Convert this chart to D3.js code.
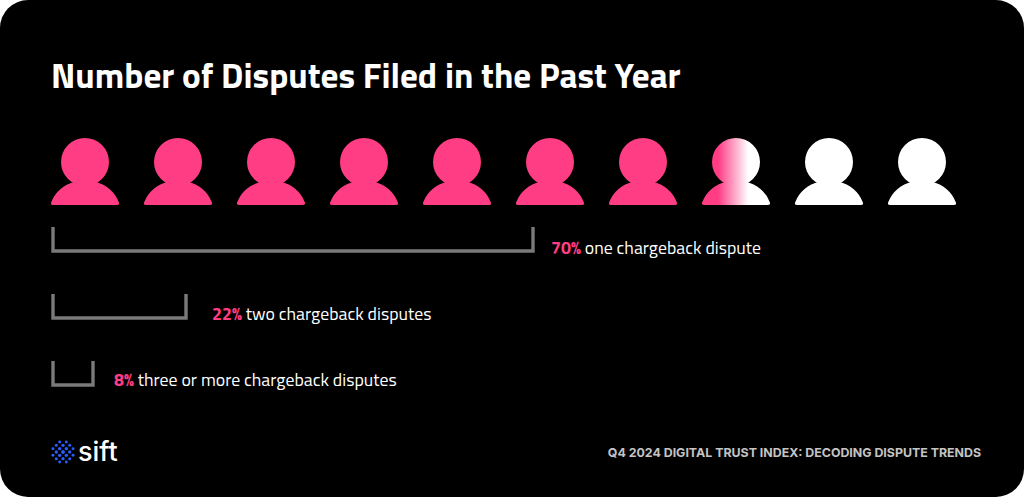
<!DOCTYPE html>
<html>
<head>
<meta charset="utf-8">
<script src="https://cdn.jsdelivr.net/npm/d3@7"></script>
<style>
html, body { margin: 0; padding: 0; background: #fff; }
svg { display: block; }
</style>
</head>
<body>
<div class="chart"></div>
<script>
const titleText = 'Number of Disputes Filed in the Past Year'
const sourceText = 'Q4 2024 DIGITAL TRUST INDEX: DECODING DISPUTE TRENDS'
const logoText = 'sift'

// one person per 10%, the 8th is a partly filled one
const people = [1, 2, 3, 4, 5, 6, 7, 8, 9, 10]
const pinkPeople = 7
const categories = ['one chargeback dispute', 'two chargeback disputes', 'three or more chargeback disputes']
const shares = [70, 22, 8]

const w = 1024
const h = 497
const pink = '#ff3d85'
const font = '"Titillium Web", "Noto Sans", "Open Sans", sans-serif'

const svg = d3.select('.chart')
  .append('svg')
  .attr('width', w)
  .attr('height', h)
  .attr('viewBox', `0 0 ${w} ${h}`)

const defs = svg.append('defs')
const grad = defs.append('linearGradient')
  .attr('id', 'fade')
  .attr('x1', 0).attr('x2', 1).attr('y1', 0).attr('y2', 0)
grad.append('stop').attr('offset', '0.24').attr('stop-color', pink)
grad.append('stop').attr('offset', '0.68').attr('stop-color', '#fff')

svg.append('rect')
  .attr('width', w)
  .attr('height', h)
  .attr('rx', 28)
  .attr('fill', '#000')

svg.append('text')
  .text(titleText)
  .attr('x', 51)
  .attr('y', 87.5)
  .attr('fill', '#fff')
  .attr('font-family', font)
  .attr('font-weight', 700)
  .attr('font-size', 35.15)

// people row
const x = d3.scalePoint().domain(people).range([85, 922])
const personPath = 'M-33.7,40 A32,32 0 0 1 -10,20 L10,20 A32,32 0 0 1 33.7,40 Q35,43 32,43 L-32,43 Q-35,43 -33.7,40 Z'

const person = svg.selectAll('.person')
  .data(people)
  .enter()
  .append('g')
  .attr('class', 'person')
  .attr('transform', d => `translate(${x(d)},162)`)
  .attr('fill', d => d <= pinkPeople ? pink : d === pinkPeople + 1 ? 'url(#fade)' : '#fff')

// head and body as one path so the gradient runs across the whole figure
person.append('path')
  .attr('d', d3.arc()({ innerRadius: 0, outerRadius: 24, startAngle: 0, endAngle: 2 * Math.PI }) + personPath)
  .attr('fill-rule', 'nonzero')

// brackets, widths follow the shares
const bw = d3.scaleLinear().domain([0, 8, 22, 70]).range([0, 40, 133, 480])
const rowY = d3.scalePoint().domain(categories).range([227, 361])
const labelY = d3.scalePoint().domain(categories).range([254, 385.5])
const labelGap = d3.scaleOrdinal().domain(categories).range([18, 26, 21])
const bracketX = 53
const bracketH = 24

svg.selectAll('.bracket')
  .data(categories)
  .enter()
  .append('path')
  .attr('class', 'bracket')
  .attr('d', (d, i) => `M${bracketX},${rowY(d)} V${rowY(d) + bracketH} H${bracketX + bw(shares[i])} V${rowY(d)}`)
  .attr('fill', 'none')
  .attr('stroke', '#7a7a7a')
  .attr('stroke-width', 3.4)

const label = svg.selectAll('.label')
  .data(categories)
  .enter()
  .append('text')
  .attr('class', 'label')
  .attr('x', (d, i) => bracketX + bw(shares[i]) + labelGap(d))
  .attr('y', d => labelY(d))
  .attr('font-family', font)
  .attr('font-size', 17.8)
  .attr('fill', '#fff')

label.append('tspan')
  .text((d, i) => shares[i] + '%')
  .attr('fill', pink)
  .attr('font-weight', 700)
label.append('tspan')
  .text(d => ' ' + d)
  .attr('font-weight', 500)

// footer
svg.append('text')
  .text(sourceText)
  .attr('x', 981)
  .attr('y', 457)
  .attr('text-anchor', 'end')
  .attr('font-family', 'Inter, sans-serif')
  .attr('font-weight', 700)
  .attr('font-size', 12.37)
  .attr('fill', '#c4c4c4')

// logo: dots on a tilted grid, clipped to a circle
const gridIdx = d3.range(-3, 4)
const dots = d3.cross(gridIdx, gridIdx)
  .map(([a, b]) => [(a - b) * 3.35, (a + b) * 3.35])
  .filter(([a, b]) => Math.hypot(a, b) < 12.5)
svg.append('g')
  .attr('transform', 'translate(63,452)')
  .selectAll('circle')
  .data(dots)
  .enter()
  .append('circle')
  .attr('cx', d => d[0])
  .attr('cy', d => d[1])
  .attr('r', d => 1.9 - Math.hypot(d[0], d[1]) * 0.04)
  .attr('fill', '#2a5cff')

svg.append('text')
  .text(logoText)
  .attr('x', 78)
  .attr('y', 460.5)
  .attr('font-family', 'Inter, sans-serif')
  .attr('font-weight', 500)
  .attr('font-size', 27)
  .attr('fill', '#fff')
</script>
</body>
</html>
